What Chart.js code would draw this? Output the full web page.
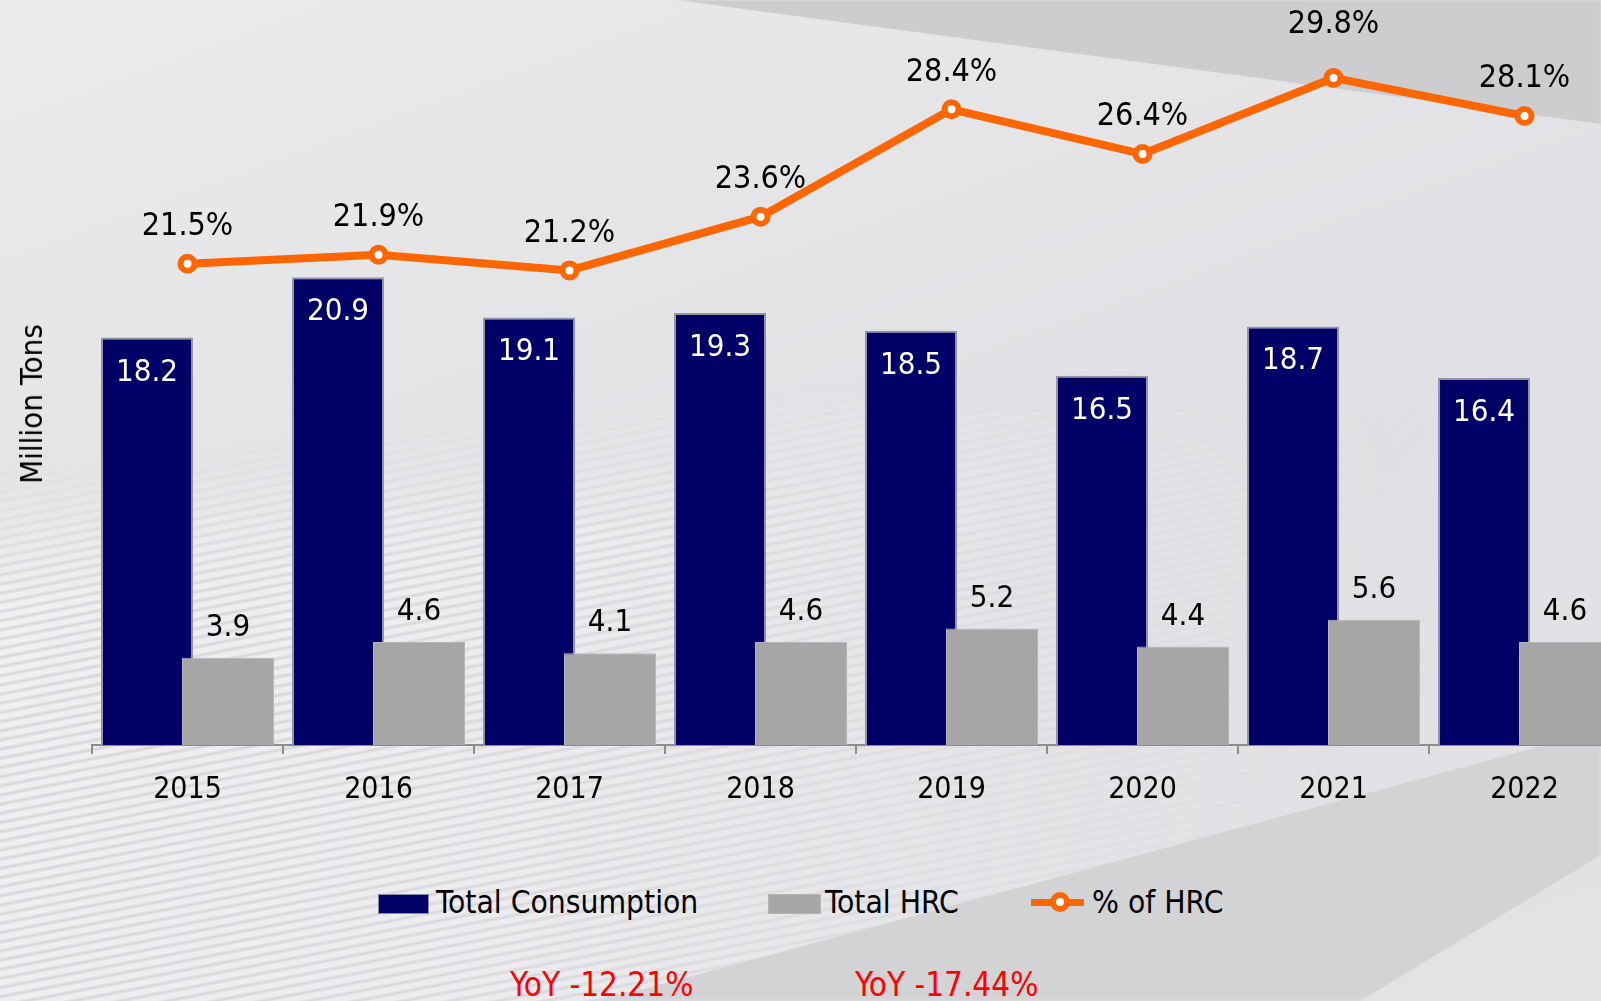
<!DOCTYPE html>
<html>
<head>
<meta charset="utf-8">
<script src="https://cdn.jsdelivr.net/npm/chart.js@4.4.1/dist/chart.umd.min.js"></script>
<style>
    html, body { margin: 0; padding: 0; width: 1601px; height: 1001px; overflow: hidden; }
    body {
        position: relative;
        background: linear-gradient(160deg, #ebebed 0%, #e4e4e7 35%, #e0e0e4 60%, #e3e3e6 100%);
        font-family: 'DejaVu Sans Condensed', 'DejaVu Sans', sans-serif;
        color: #000;
    }
    .layer { position: absolute; left: 0; top: 0; width: 1601px; height: 1001px; }
    #wedgeTop { background: #cdcdd0; clip-path: polygon(677px 0, 1601px 0, 1601px 124px); filter: blur(1px); }
    #stripesFade {
        -webkit-mask-image: linear-gradient(100deg, rgba(0,0,0,0.8) 0%, rgba(0,0,0,0.65) 35%, rgba(0,0,0,0.2) 65%, transparent 85%);
        mask-image: linear-gradient(100deg, rgba(0,0,0,0.8) 0%, rgba(0,0,0,0.65) 35%, rgba(0,0,0,0.2) 65%, transparent 85%);
    }
    #stripes {
        background: repeating-linear-gradient(169deg, #f3f3f5 0px, #f3f3f5 4px, #d6d6da 6px, #d6d6da 7px, #f3f3f5 9px);
        -webkit-mask-image: linear-gradient(174deg, transparent 0%, transparent 40%, black 52%, black 100%);
        mask-image: linear-gradient(174deg, transparent 0%, transparent 40%, black 52%, black 100%);
        clip-path: polygon(0 0, 1601px 0, 1601px 730px, 600px 1001px, 0 1001px);
    }
    #bandBottom {
        background: #d3d3d6;
        clip-path: polygon(600px 1001px, 1601px 730px, 1601px 855px, 1360px 1001px);
        filter: blur(2px);
    }
    #chartBox { position: absolute; left: 0; top: 0; width: 1640px; height: 810px; }
    .txt { position: absolute; white-space: nowrap; font-size: 31.5px; line-height: 36px; }
    .sw { position: absolute; height: 18px; }
    #yTitle { left: 31px; top: 404px; transform: translate(-50%, -50%) rotate(-90deg); font-size: 31px; }
    .yoy { color: #ff0000; font-size: 33px; }
</style>
</head>
<body>
<div class="layer" id="stripesFade"><div class="layer" id="stripes"></div></div>
<div class="layer" id="bandBottom"></div>
<div class="layer" id="wedgeTop"></div>

<div id="chartBox"><canvas id="hrcChart" width="1640" height="810"></canvas></div>

<div class="txt" id="yTitle">Million Tons</div>

<div class="sw" style="left:378px; top:894px; width:49px; background:#000066; border:1px solid #8a8aa0;"></div>
<div class="txt" style="left:436px; top:884px;">Total Consumption</div>
<div class="sw" style="left:768px; top:894px; width:51px; background:#a6a6a6; border:1px solid #b4b4b4;"></div>
<div class="txt" style="left:825px; top:884px;">Total HRC</div>
<div style="position:absolute; left:1031px; top:899px; width:53px; height:7px; background:#ff6600;"></div>
<div style="position:absolute; left:1050px; top:892px; width:8px; height:8px; border:6px solid #ff6600; border-radius:50%; background:#fff;"></div>
<div class="txt" style="left:1092px; top:884px;">% of HRC</div>

<div class="txt yoy" style="left:510px; top:967px;">YoY -12.21%</div>
<div class="txt yoy" style="left:855px; top:967px;">YoY -17.44%</div>

<script>
const years = ['2015', '2016', '2017', '2018', '2019', '2020', '2021', '2022'];
const totalConsumption = [18.2, 20.9, 19.1, 19.3, 18.5, 16.5, 18.7, 16.4];
const totalHrc = [3.9, 4.6, 4.1, 4.6, 5.2, 4.4, 5.6, 4.6];
const hrcShare = [21.5, 21.9, 21.2, 23.6, 28.4, 26.4, 29.8, 28.1];

const colors = {
    navy: '#000066',
    navyEdge: '#9494a6',
    grey: '#a6a6a6',
    greyEdge: '#b6b6b6',
    orange: '#ff6600',
    axis: '#8c8c8c'
};

const fontFamily = "'DejaVu Sans Condensed', 'DejaVu Sans', sans-serif";
Chart.defaults.font.family = fontFamily;
Chart.defaults.color = '#000';

// grey bars overlap the navy ones, so navy has to be painted first
const navyFirst = {
    id: 'navyFirst',
    beforeDatasetsDraw(chart) {
        const meta = chart.getDatasetMeta(1);
        if (meta.visible) meta.controller.draw();
    },
    beforeDatasetDraw(chart, args) {
        if (args.index === 1) return false;
    }
};

// value labels
const valueLabels = {
    id: 'valueLabels',
    afterDatasetsDraw(chart) {
        const ctx = chart.ctx;
        ctx.save();
        ctx.textAlign = 'center';
        ctx.textBaseline = 'middle';
        ctx.font = '31px ' + fontFamily;

        chart.getDatasetMeta(1).data.forEach((bar, i) => {
            ctx.fillStyle = '#fff';
            ctx.fillText(totalConsumption[i].toFixed(1), bar.x, bar.y + 35);
        });
        chart.getDatasetMeta(2).data.forEach((bar, i) => {
            ctx.fillStyle = '#000';
            ctx.fillText(totalHrc[i].toFixed(1), bar.x, bar.y - 30);
        });
        ctx.font = '32px ' + fontFamily;
        chart.getDatasetMeta(0).data.forEach((pt, i) => {
            const lift = i === 6 ? 53 : 37;
            ctx.fillStyle = '#000';
            ctx.fillText(hrcShare[i].toFixed(1) + '%', pt.x, pt.y - lift);
        });
        ctx.restore();
    }
};

new Chart(document.getElementById('hrcChart'), {
    type: 'bar',
    data: {
        labels: years,
        datasets: [
            {
                type: 'line',
                label: '% of HRC',
                data: hrcShare,
                order: 0,
                borderColor: colors.orange,
                borderWidth: 8,
                tension: 0,
                pointRadius: 7,
                pointBorderWidth: 6,
                pointBackgroundColor: '#fff',
                pointBorderColor: colors.orange
            },
            {
                label: 'Total Consumption',
                data: totalConsumption,
                order: 1,
                backgroundColor: colors.navy,
                borderColor: colors.navyEdge,
                borderWidth: 2,
                categoryPercentage: 0.848,
                barPercentage: 1.136
            },
            {
                label: 'Total HRC',
                data: totalHrc,
                order: 2,
                backgroundColor: colors.grey,
                borderColor: colors.greyEdge,
                borderWidth: 1,
                categoryPercentage: 0.848,
                barPercentage: 1.136
            }
        ]
    },
    options: {
        responsive: false,
        animation: false,
        layout: { padding: { left: 92, right: 20, top: 6, bottom: 5 } },
        plugins: {
            legend: { display: false },
            tooltip: { enabled: false }
        },
        scales: {
            x: {
                offset: true,
                grid: {
                    offset: true,
                    drawOnChartArea: false,
                    drawTicks: true,
                    tickLength: 9,
                    color: colors.axis,
                    lineWidth: 2
                },
                border: { color: colors.axis, width: 2 },
                ticks: {
                    padding: 18,
                    color: '#000',
                    font: { size: 30 }
                },
                afterFit(scale) {
                    scale.height = 60;
                }
            },
            y: {
                display: false,
                min: 0,
                max: 32.7
            }
        }
    },
    plugins: [navyFirst, valueLabels]
});
</script>
</body>
</html>
